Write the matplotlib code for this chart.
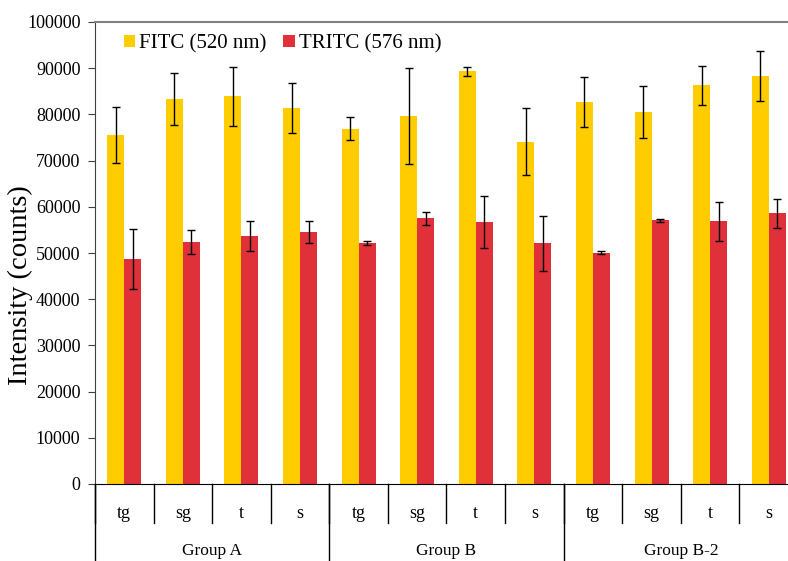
import numpy as np
import matplotlib.pyplot as plt
from matplotlib.transforms import blended_transform_factory

plt.rcParams['font.family'] = ['Liberation Serif', 'DejaVu Serif']

# Data
categories = ['tg', 'sg', 't', 's'] * 3
groups = ['Group A', 'Group B', 'Group B-2']
fitc = [75500, 83300, 83900, 81300,
        76900, 79700, 89300, 74100,
        82700, 80500, 86300, 88300]
fitc_err = [6100, 5600, 6400, 5400,
            2500, 10400, 1000, 7200,
            5500, 5700, 4200, 5400]
tritc = [48700, 52300, 53700, 54500,
         52100, 57500, 56700, 52100,
         50100, 57100, 56900, 58600]
tritc_err = [6500, 2600, 3200, 2400,
             400, 1400, 5600, 6000,
             300, 300, 4200, 3100]

fig = plt.figure(figsize=(7.88, 5.61), dpi=100)
ax = fig.add_axes([95/788, 77/561, 703/788, 462/561])

x = np.arange(len(categories))
w = 0.29
ekw = dict(ecolor='black', elinewidth=1, capsize=3, capthick=1)
ax.bar(x - w/2, fitc, w, color='#FFCC00', label='FITC (520 nm)', yerr=fitc_err, error_kw=ekw)
ax.bar(x + w/2, tritc, w, color='#E0303A', label='TRITC (576 nm)', yerr=tritc_err, error_kw=ekw)

ax.set_xlim(-0.5, len(categories) - 0.5)
ax.set_ylim(0, 100000)
ax.set_yticks(np.arange(0, 100001, 10000))
ax.tick_params(axis='y', direction='out', length=5, pad=5.5, labelsize=13, color='#404040')
ax.set_xticks([])

# y label placed by hand (sits a bit below the axis centre in the original)
fig.text(20/788, 1 - 285/561, 'Intensity (counts)', rotation=90,
         ha='center', va='center', fontsize=20.5)

ax.spines['left'].set_color('#404040')
ax.spines['bottom'].set_color('black')
ax.spines['top'].set_color('#808080')
ax.spines['top'].set_linewidth(1.5)
ax.spines['right'].set_color('#808080')

# category and group labels below the axis
tr = blended_transform_factory(ax.transData, ax.transAxes)
for i, c in enumerate(categories):
    ax.text(i, -0.063, c, transform=tr, ha='center', va='center', fontsize=13)
for i in range(len(categories) + 1):
    ax.plot([i - 0.5, i - 0.5], [0, -0.085], transform=tr, color='black',
            lw=1, clip_on=False)
for g, name in enumerate(groups):
    ax.text(g * 4 + 1.5, -0.145, name, transform=tr, ha='center', va='center', fontsize=12.5)
    ax.plot([g * 4 - 0.5, g * 4 - 0.5], [0, -0.2], transform=tr, color='black',
            lw=1, clip_on=False)

ax.legend(loc='upper left', bbox_to_anchor=(0.014, 1.014), ncol=2, frameon=False,
          fontsize=15, handlelength=0.55, handleheight=0.55, handletextpad=0.2,
          columnspacing=0.8)

fig.savefig('out.png', dpi=100)
